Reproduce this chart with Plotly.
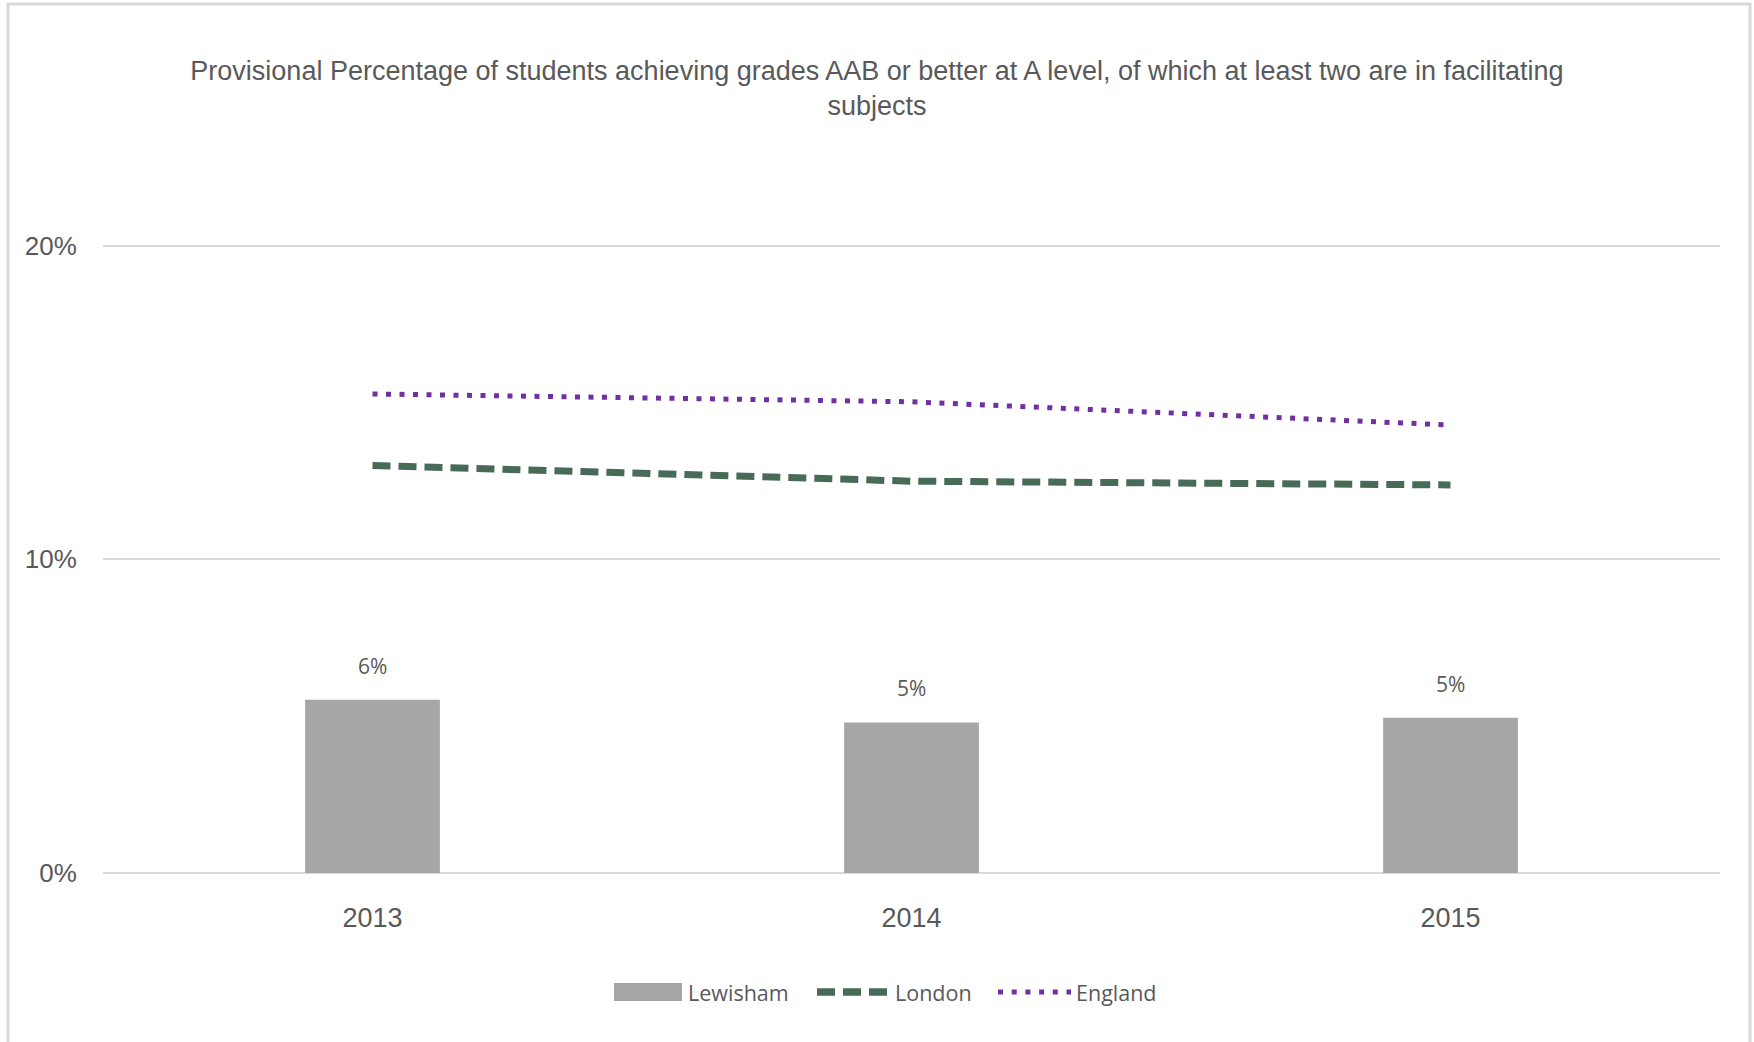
import plotly.graph_objects as go

# Chart data
years = ["2013", "2014", "2015"]
lewisham = [0.0552, 0.048, 0.0495]
london = [0.1299, 0.1249, 0.1237]
england = [0.1527, 0.1502, 0.1428]
series_names = ["Lewisham", "London", "England"]

title_text = ("Provisional Percentage of students achieving grades AAB or better at A level, "
              "of which at least two are in facilitating<br>subjects")

FONT = "Liberation Sans, Arial, sans-serif"
LABEL_FONT = "Open Sans, Liberation Sans, sans-serif"
TEXT_GREY = "#595959"
BAR_COLOR = "#a6a6a6"
LONDON_COLOR = "#476b56"
ENGLAND_COLOR = "#7030a0"
LONDON_DASH = "18px,8px"
ENGLAND_DASH = "5px,8.5px"

W, H = 1754, 1042
M_L, M_R, M_T, M_B = 103, 34, 244, 169
PLOT_W = W - M_L - M_R
PLOT_H = H - M_T - M_B


def px_x(px):
    """Horizontal pixel position -> paper coordinate."""
    return (px - M_L) / PLOT_W


def px_y(py):
    """Vertical pixel position (from top) -> paper coordinate."""
    return (H - M_B - py) / PLOT_H


fig = go.Figure()

fig.add_trace(go.Bar(
    x=years, y=lewisham, name=series_names[0],
    marker=dict(color=BAR_COLOR, line=dict(width=0)),
    width=0.25,
))
fig.add_trace(go.Scatter(
    x=years, y=london, name=series_names[1], mode="lines",
    line=dict(color=LONDON_COLOR, width=7, dash=LONDON_DASH),
))
fig.add_trace(go.Scatter(
    x=years, y=england, name=series_names[2], mode="lines",
    line=dict(color=ENGLAND_COLOR, width=5, dash=ENGLAND_DASH),
))

# Value labels above the bars (category index used for x)
for i, v in enumerate(lewisham):
    fig.add_annotation(
        x=i, y=v, text=f"{round(v * 100):.0f}%", showarrow=False,
        yanchor="bottom", yshift=18,
        font=dict(family=LABEL_FONT, size=21, color=TEXT_GREY),
    )

# Light frame around the whole chart
fig.add_shape(
    type="rect", xref="paper", yref="paper",
    x0=px_x(8), x1=px_x(1750), y0=px_y(1100), y1=px_y(4),
    line=dict(color="#d9d9d9", width=3), fillcolor="rgba(0,0,0,0)", layer="below",
)

# Legend row below the axis
LEG_Y = 992
fig.add_shape(
    type="rect", xref="paper", yref="paper",
    x0=px_x(614), x1=px_x(682), y0=px_y(LEG_Y + 9), y1=px_y(LEG_Y - 9),
    line=dict(width=0), fillcolor=BAR_COLOR,
)
fig.add_shape(
    type="line", xref="paper", yref="paper",
    x0=px_x(817), x1=px_x(887), y0=px_y(LEG_Y), y1=px_y(LEG_Y),
    line=dict(color=LONDON_COLOR, width=7.5, dash=LONDON_DASH),
)
fig.add_shape(
    type="line", xref="paper", yref="paper",
    x0=px_x(998), x1=px_x(1071), y0=px_y(LEG_Y), y1=px_y(LEG_Y),
    line=dict(color=ENGLAND_COLOR, width=5, dash="5px,8.7px"),
)
for name, left in zip(series_names, [686, 893, 1074]):
    fig.add_annotation(
        xref="paper", yref="paper", x=px_x(left), y=px_y(LEG_Y),
        xanchor="left", yanchor="middle", showarrow=False, text=name,
        font=dict(family=LABEL_FONT, size=21.5, color=TEXT_GREY),
    )

fig.update_layout(
    width=W, height=H,
    margin=dict(l=M_L, r=M_R, t=M_T, b=M_B),
    paper_bgcolor="white", plot_bgcolor="white",
    title=dict(
        text=title_text, x=0.5, xanchor="center", xref="container",
        y=0.9237, yanchor="middle",
        font=dict(family=FONT, size=27, color=TEXT_GREY),
    ),
    showlegend=False,
    xaxis=dict(
        type="category", showgrid=False, showline=False, zeroline=False,
        ticks="outside", ticklen=21, tickcolor="rgba(0,0,0,0)",
        tickfont=dict(family=FONT, size=27, color=TEXT_GREY),
    ),
    yaxis=dict(
        range=[0, 0.2005], tickvals=[0, 0.1, 0.2], tickformat=".0%",
        showgrid=True, gridcolor="#d9d9d9", gridwidth=1.5,
        zeroline=True, zerolinecolor="#d9d9d9", zerolinewidth=1.5,
        showline=False,
        ticks="outside", ticklen=20, tickcolor="rgba(0,0,0,0)",
        tickfont=dict(family=FONT, size=26, color=TEXT_GREY),
    ),
    bargap=0.75,
)

fig.write_html("out.html")
